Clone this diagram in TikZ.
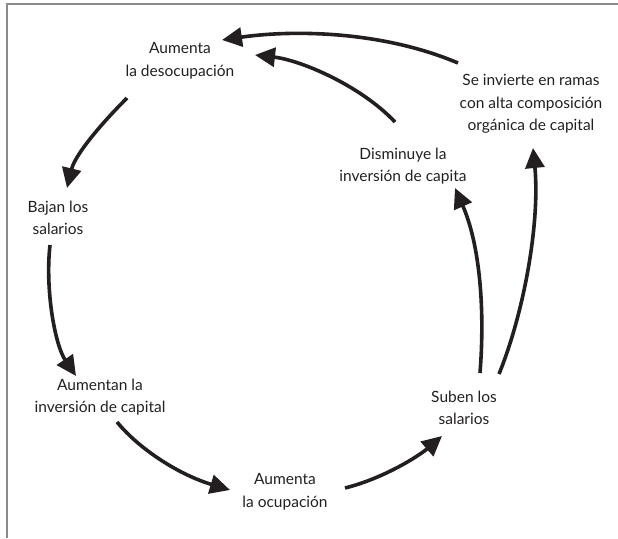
\documentclass[tikz,border=0pt]{standalone}
\usepackage{fontspec}
\setmainfont{Lato}
\usetikzlibrary{arrows.meta}
\definecolor{ink}{HTML}{231F20}
\definecolor{framegray}{HTML}{8A8A8A}
\begin{document}
\begin{tikzpicture}[x=1pt,y=-1pt,
  lbl/.style={align=center,inner sep=0pt,text=ink,font=\fontsize{15.5}{22.5}\selectfont},
  conn/.style={line width=3.6pt,draw=ink,-{Triangle[length=20pt,width=19pt]}}]
\useasboundingbox (0,0) rectangle (618,538);
\draw[framegray,line width=1.3pt] (7,538) -- (7,4) -- (618,4);
\node[lbl] (A) at (180,61) {Aumenta\\la desocupación};
\node[lbl] (B) at (58,218) {Bajan los\\salarios};
\node[lbl] (C) at (100,397) {Aumentan la\\inversión de capital};
\node[lbl] (D) at (285,492) {Aumenta\\la ocupación};
\node[lbl] (E) at (464,408) {Suben los\\salarios};
\node[lbl] (F) at (403,166) {Disminuye la\\inversión de capita};
\node[lbl] (G) at (531,104) {Se invierte en ramas\\con alta composición\\orgánica de capital};
% G -> A
\draw[conn] ([shift={(-73,-41)}]G.center) .. controls (380,30) and (290,30) .. ([shift={(42,-21)}]A.center);
% F -> A
\draw[conn] ([shift={(-8,-44)}]F.center) .. controls (360,85) and (300,60) .. ([shift={(75,-6)}]A.center);
% A -> B
\draw[conn] ([shift={(-53,37)}]A.center) .. controls (100,125) and (75,155) .. ([shift={(9,-30)}]B.center);
% B -> C
\draw[conn] ([shift={(-8,27)}]B.center) .. controls (45,290) and (55,345) .. ([shift={(-24,-21)}]C.center);
% C -> D
\draw[conn] ([shift={(17,25)}]C.center) .. controls (140,450) and (180,475) .. ([shift={(-55,-2)}]D.center);
% D -> E
\draw[conn] ([shift={(60,-4)}]D.center) .. controls (385,478) and (420,455) .. ([shift={(-22,28)}]E.center);
% E -> F
\draw[conn] ([shift={(16,-35)}]E.center) .. controls (485,310) and (480,245) .. ([shift={(52,22)}]F.center);
% E -> G
\draw[conn] ([shift={(35,-34)}]E.center) .. controls (525,310) and (540,220) .. ([shift={(2,44)}]G.center);
\end{tikzpicture}
\end{document}
